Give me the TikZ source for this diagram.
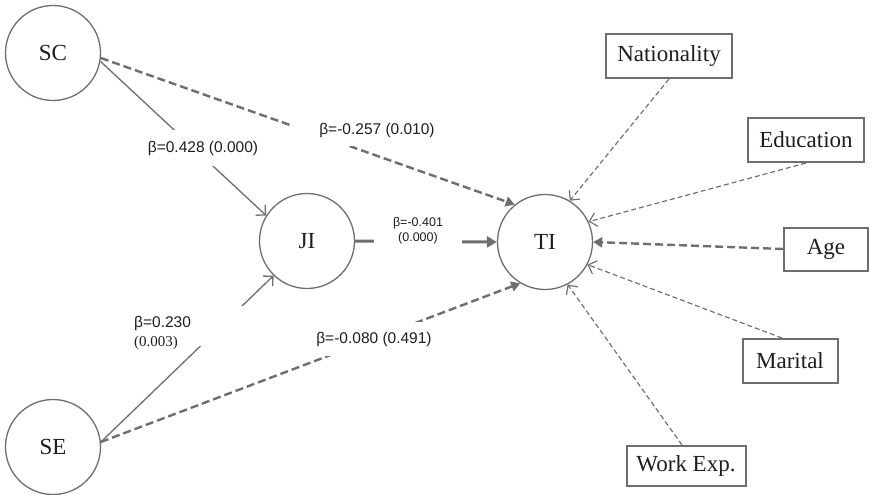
\documentclass[tikz,border=0pt]{standalone}
\usepackage{fontspec}
\setmainfont{Liberation Serif}
\setsansfont{Liberation Sans}
\newfontfamily\serifL{Liberation Serif}
\usetikzlibrary{arrows.meta}
\definecolor{ln}{HTML}{6E6E6E}
\definecolor{tx}{HTML}{1E1E1E}
\begin{document}
\begin{tikzpicture}[x=1pt,y=-1pt,
  latent/.style={circle, draw=ln, line width=1.3pt, minimum size=95pt, inner sep=0pt, text=tx, font=\serifL\fontsize{23}{27}\selectfont},
  ctrl/.style={rectangle, draw=ln, line width=2pt, inner sep=0pt, text=tx, font=\serifL\fontsize{23}{27}\selectfont},
  thinsolid/.style={draw=ln, line width=1.3pt, -{Straight Barb[length=7pt,width=14pt]}},
  thicksolid/.style={draw=ln, line width=3pt, -{Triangle[length=10pt,width=11pt]}},
  thickdash/.style={draw=ln, line width=2.4pt, dash pattern=on 8pt off 4pt, -{Triangle[length=9pt,width=10pt]}},
  thindash/.style={draw=ln, line width=1.15pt, dash pattern=on 5pt off 3pt, -{Straight Barb[length=7pt,width=14pt]}},
  coef/.style={font=\sffamily\fontsize{15.5}{18}\selectfont, text=tx, fill=white},
]
\useasboundingbox (0,0) rectangle (870,495);
\fill[white] (0,0) rectangle (870,495);

% latent constructs
\node[latent] (SC) at (53,53) {SC};
\node[latent] (SE) at (53,447) {SE};
\node[latent] (JI) at (307,241) {JI};
\node[latent] (TI) at (545,242) {TI};

% control variables
\node[ctrl, minimum width=126pt, minimum height=44pt] (Nat) at (669,56) {Nationality};
\node[ctrl, minimum width=116pt, minimum height=44pt] (Edu) at (806,140) {Education};
\node[ctrl, minimum width=84pt, minimum height=43pt] (Age) at (826,249) {Age};
\node[ctrl, minimum width=95pt, minimum height=44pt] (Mar) at (790,361) {Marital};
\node[ctrl, minimum width=119pt, minimum height=40pt] (Work) at (686,466) {Work Exp.};

% structural paths
\draw[thinsolid] (SC.-10) -- (JI.148);
\draw[thickdash] (SC.-6) -- (TI.129);
\draw[thicksolid] (JI.east) -- (TI.west);
\draw[thinsolid] (SE.6) -- (JI.226);
\draw[thickdash] (SE.6) -- (TI.239);

% control paths
\draw[thindash] (Nat.south) -- (TI.59);
\draw[thindash] (Edu.south) -- (TI.25);
\draw[thickdash] (Age.west) -- (TI.0);
\draw[thindash] ([xshift=-8pt]Mar.north) -- (TI.-28);
\draw[thindash] ([xshift=-4pt]Work.north) -- (TI.-62);

% coefficient labels
\node[coef, inner xsep=2pt, inner ysep=11pt] (l1) at (203,148) {β=0.428 (0.000)};
\node[coef, inner xsep=29pt, inner ysep=9pt] (l2) at (377,130) {β=-0.257 (0.010)};
\node[coef, font=\sffamily\fontsize{12.5}{15}\selectfont, align=center, inner xsep=19pt, inner ysep=2pt] (l3) at (418,231) {β=-0.401\\(0.000)};
\node[coef, inner xsep=2pt, inner ysep=10pt] (l4) at (374,339) {β=-0.080 (0.491)};
\node[fill=white, inner sep=0pt, minimum width=44pt, minimum height=40pt] (cover) at (221,326) {};
\node[coef, fill=none, align=left, anchor=west, inner sep=0pt] (l5) at (134,333) {β=0.230\\[1pt]\serifL\fontsize{15}{18}\selectfont (0.003)};
\end{tikzpicture}
\end{document}
